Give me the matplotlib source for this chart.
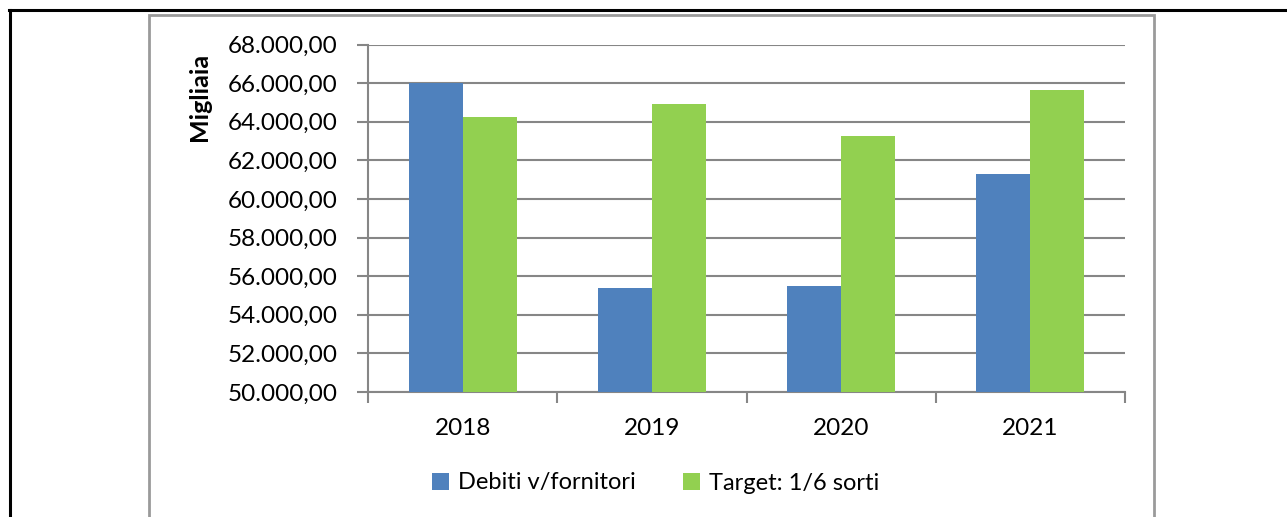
import matplotlib.pyplot as plt
import numpy as np
from matplotlib.ticker import FuncFormatter
from matplotlib.patches import Rectangle
from matplotlib.lines import Line2D

plt.rcParams['font.family'] = ['Lato', 'DejaVu Sans']

years = ['2018', '2019', '2020', '2021']
debiti = [66000, 55400, 55470, 61310]
target = [64230, 64900, 63250, 65620]
series_names = ['Debiti v/fornitori', 'Target: 1/6 sorti']

W, H = 1287, 517
fig = plt.figure(figsize=(W / 100, H / 100), dpi=100)

# outer frames
fig.add_artist(Line2D([9 / W, 1], [1 - 9.5 / H, 1 - 9.5 / H], color='black', lw=2.2))
fig.add_artist(Line2D([9.5 / W, 9.5 / W], [0, 1 - 9.5 / H], color='black', lw=2.2))
fig.add_artist(Rectangle((149 / W, -0.01), (1154 - 149) / W, 1 - 15 / H + 0.01,
                         fill=False, edgecolor='#9a9a9a', lw=2))

ax = fig.add_axes([368 / W, 1 - 392 / H, (1125 - 368) / W, (392 - 44.5) / H])
x = np.arange(len(years))
w = 0.285
ax.bar(x - w / 2, debiti, w, color='#4F81BD', label=series_names[0], zorder=3)
ax.bar(x + w / 2, target, w, color='#92D050', label=series_names[1], zorder=3)

ax.set_xlim(-0.5, len(years) - 0.5)
ax.set_ylim(50000, 68000)
ax.set_yticks(np.arange(50000, 68001, 2000))
ax.yaxis.set_major_formatter(FuncFormatter(
    lambda v, p: f"{v:,.2f}".replace(',', 'X').replace('.', ',').replace('X', '.')))
ax.set_xticks(x)
ax.set_xticklabels(years)
ax.set_xticks(np.arange(-0.5, len(years), 1), minor=True)
ax.tick_params(axis='x', which='major', length=0, pad=19, labelsize=17.5)
ax.tick_params(axis='x', which='minor', length=8, color='#868686', width=1.5)
ax.tick_params(axis='y', length=8, color='#868686', width=1.5, labelsize=17.5, pad=14)
ax.grid(axis='y', color='#868686', lw=1.5, zorder=0)
for s in ['top', 'right']:
    ax.spines[s].set_visible(False)
for s in ['left', 'bottom']:
    ax.spines[s].set_color('#868686')
    ax.spines[s].set_linewidth(1.5)
ax.set_ylabel('Migliaia', fontsize=18, fontweight='bold')
ax.yaxis.set_label_coords(-0.207, 0.849)

fig.legend(loc='center', bbox_to_anchor=(656 / W, 1 - 483 / H), ncol=2, frameon=False,
           fontsize=17, handlelength=0.7, handleheight=0.7, columnspacing=2.0, handletextpad=0.4)

fig.savefig('out.png', dpi=100)
